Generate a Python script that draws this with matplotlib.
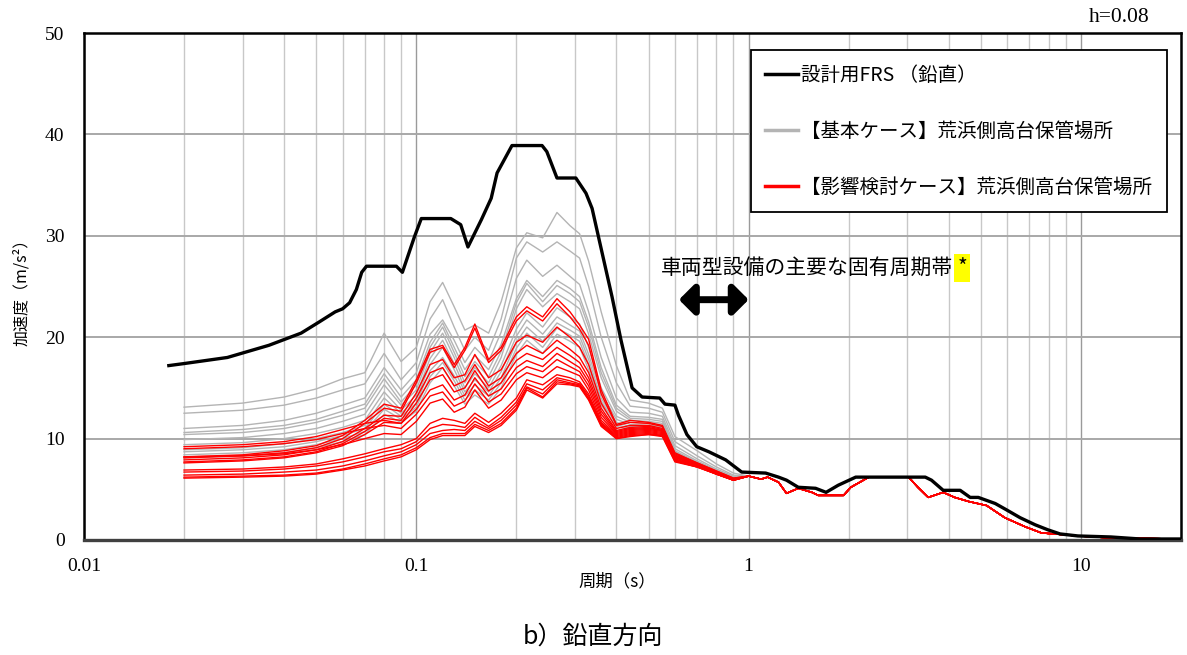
import numpy as np
import matplotlib
matplotlib.use("Agg")
import matplotlib.pyplot as plt
from matplotlib.lines import Line2D
from matplotlib.ticker import LogLocator, NullFormatter, FixedLocator

plt.rcParams['font.family'] = ['Noto Sans CJK JP', 'DejaVu Sans']

# ---------------- data ----------------
# design FRS (black)
FRS_T = [0.018, 0.02, 0.027, 0.036, 0.045, 0.051, 0.057, 0.06, 0.063, 0.066, 0.0685,
         0.0708, 0.0871, 0.0908, 0.0987, 0.1035, 0.127, 0.136, 0.143, 0.157, 0.168,
         0.175, 0.194, 0.239, 0.247, 0.265, 0.302, 0.324, 0.338, 0.355, 0.388, 0.413,
         0.446, 0.478, 0.54, 0.56, 0.6, 0.615, 0.652, 0.698, 0.759, 0.853, 0.953,
         1.125, 1.23, 1.30, 1.41, 1.59, 1.71, 1.86, 2.10, 3.40, 3.55, 3.85, 4.33,
         4.64, 4.91, 5.52, 5.95, 6.56, 7.28, 7.96, 8.65, 9.79, 12.3, 15.1, 20.0]
FRS_V = [17.2, 17.4, 18.0, 19.2, 20.4, 21.5, 22.5, 22.8, 23.4, 24.7, 26.4,
         27.0, 27.0, 26.4, 29.9, 31.7, 31.7, 31.1, 28.9, 31.6, 33.7,
         36.2, 38.9, 38.9, 38.3, 35.7, 35.7, 34.2, 32.7, 29.6, 24.0, 19.7,
         15.0, 14.1, 14.0, 13.4, 13.3, 12.3, 10.4, 9.2, 8.7, 7.9, 6.7,
         6.6, 6.2, 5.9, 5.2, 5.1, 4.7, 5.4, 6.2, 6.2, 5.9, 4.9, 4.9,
         4.2, 4.2, 3.6, 3.0, 2.2, 1.5, 1.0, 0.6, 0.4, 0.3, 0.1, 0.1]

# periods at which the case spectra were read (below 1 s)
CASE_T = [0.02, 0.03, 0.04, 0.05, 0.06, 0.07, 0.08, 0.09, 0.1, 0.11, 0.12, 0.13,
          0.14, 0.15, 0.165, 0.18, 0.2, 0.215, 0.24, 0.265, 0.29, 0.31, 0.33,
          0.36, 0.4, 0.44, 0.5, 0.55, 0.6, 0.7, 0.8, 0.9]

# basic cases (gray): one row per period, one column per case
GRAY_ROWS = [
    [13.1, 12.5, 11.0, 10.6, 10.4, 9.9, 9.4, 8.9, 8.7, 8.4, 8.1],
    [13.5, 12.8, 11.3, 10.9, 10.6, 10.1, 9.6, 9.1, 8.9, 8.6, 8.3],
    [14.1, 13.3, 11.8, 11.3, 11.0, 10.5, 10.0, 9.5, 9.2, 8.9, 8.6],
    [14.9, 14.0, 12.5, 11.9, 11.6, 11.0, 10.5, 10.0, 9.7, 9.4, 9.1],
    [15.9, 14.8, 13.3, 12.7, 12.3, 11.7, 11.1, 10.6, 10.3, 10.0, 9.7],
    [16.5, 15.4, 14.0, 13.4, 13.0, 12.4, 11.8, 11.3, 11.0, 10.7, 10.4],
    [20.4, 18.4, 17.0, 16.4, 15.9, 15.3, 14.6, 14.0, 13.4, 12.9, 12.4],
    [17.6, 15.8, 14.8, 14.1, 13.6, 13.3, 12.8, 12.5, 12.2, 11.9, 11.6],
    [19.0, 17.5, 16.5, 15.8, 15.3, 14.8, 14.3, 13.9, 13.5, 13.1, 12.7],
    [23.5, 21.8, 20.3, 19.5, 19.0, 18.5, 17.9, 17.3, 16.7, 16.1, 15.5],
    [25.4, 23.7, 21.7, 21.4, 21.0, 20.4, 19.7, 19.0, 18.0, 17.5, 17.0],
    [23.0, 21.0, 19.7, 19.0, 18.5, 18.0, 17.4, 16.8, 16.2, 15.7, 15.2],
    [20.7, 18.7, 17.5, 16.8, 16.1, 15.5, 15.0, 14.6, 14.2, 13.8, 13.4],
    [21.2, 20.0, 19.0, 18.2, 17.6, 17.0, 16.4, 15.8, 15.3, 14.8, 14.3],
    [20.4, 18.7, 17.6, 16.8, 16.1, 15.5, 15.0, 14.6, 14.2, 13.8, 13.4],
    [23.5, 21.8, 20.5, 19.3, 18.6, 18.0, 17.2, 16.6, 16.0, 15.5, 15.0],
    [28.8, 27.8, 25.8, 23.8, 23.4, 22.8, 20.8, 20.1, 19.5, 18.9, 18.3],
    [30.3, 29.4, 27.6, 25.6, 25.3, 24.7, 22.4, 21.7, 21.0, 20.4, 19.7],
    [29.8, 28.4, 26.0, 24.0, 23.5, 23.0, 21.0, 20.3, 19.6, 19.0, 18.4],
    [32.3, 29.4, 27.1, 25.6, 25.1, 24.3, 22.9, 22.0, 21.4, 20.9, 20.3],
    [31.0, 28.5, 26.0, 24.8, 24.3, 23.5, 22.0, 21.2, 20.7, 20.2, 19.6],
    [30.2, 27.8, 25.2, 24.0, 23.5, 22.8, 21.3, 20.6, 20.1, 19.6, 19.0],
    [27.5, 25.0, 22.5, 21.5, 21.0, 20.3, 19.0, 18.3, 17.8, 17.3, 16.8],
    [22.5, 20.0, 18.0, 17.0, 16.5, 16.0, 15.0, 14.5, 14.0, 13.7, 13.3],
    [17.2, 15.5, 14.0, 13.3, 13.0, 12.7, 12.2, 11.9, 11.6, 11.4, 11.2],
    [13.8, 13.2, 12.6, 12.2, 12.0, 11.8, 11.6, 11.4, 11.2, 11.0, 10.9],
    [13.5, 13.0, 12.5, 12.1, 11.9, 11.7, 11.5, 11.3, 11.2, 11.0, 10.9],
    [13.0, 12.6, 12.2, 11.9, 11.7, 11.5, 11.3, 11.2, 11.1, 10.9, 10.8],
    [10.2, 9.7, 9.3, 9.0, 8.8, 8.7, 8.6, 8.5, 8.4, 8.3, 8.3],
    [8.8, 8.3, 8.0, 7.8, 7.7, 7.6, 7.6, 7.5, 7.5, 7.4, 7.4],
    [7.5, 7.2, 7.0, 6.9, 6.8, 6.8, 6.7, 6.7, 6.7, 6.6, 6.6],
    [6.6, 6.4, 6.3, 6.2, 6.2, 6.1, 6.1, 6.1, 6.0, 6.0, 6.0],
]

# influence-study cases (red): one row per period, one column per case
RED_ROWS = [
    [8.2, 8.1, 7.9, 7.7, 7.6, 9.2, 9.0, 8.2, 6.9, 6.7, 6.4, 6.2, 6.1],
    [8.4, 8.3, 8.1, 7.9, 7.8, 9.4, 9.2, 8.3, 7.0, 6.8, 6.5, 6.3, 6.2],
    [8.8, 8.6, 8.4, 8.2, 8.1, 9.7, 9.5, 8.5, 7.2, 7.0, 6.7, 6.4, 6.3],
    [9.3, 9.1, 8.9, 8.7, 8.6, 10.2, 9.9, 8.9, 7.5, 7.3, 6.9, 6.6, 6.5],
    [10.3, 10.0, 9.7, 9.5, 9.3, 10.9, 10.5, 9.4, 8.0, 7.7, 7.3, 7.0, 6.9],
    [11.8, 11.5, 11.0, 10.7, 10.4, 11.5, 11.0, 10.0, 8.5, 8.2, 7.8, 7.5, 7.3],
    [13.4, 13.0, 12.3, 12.0, 11.6, 11.8, 11.3, 10.5, 9.0, 8.7, 8.3, 8.0, 7.8],
    [13.0, 12.7, 12.2, 11.8, 11.5, 11.5, 11.0, 10.4, 9.4, 9.0, 8.7, 8.4, 8.2],
    [15.8, 15.5, 14.5, 14.0, 13.5, 12.9, 12.4, 11.7, 10.0, 9.7, 9.4, 9.1, 8.9],
    [18.8, 18.5, 17.3, 16.5, 15.8, 14.8, 14.2, 13.5, 11.5, 11.0, 10.5, 10.1, 9.9],
    [19.2, 19.0, 17.8, 17.0, 16.3, 15.3, 14.6, 13.9, 12.0, 11.4, 10.8, 10.5, 10.3],
    [17.3, 17.0, 16.0, 15.2, 14.6, 13.8, 13.2, 12.6, 11.8, 11.3, 10.9, 10.5, 10.3],
    [19.0, 18.7, 16.3, 15.7, 15.0, 14.3, 13.7, 13.1, 11.5, 11.1, 10.8, 10.5, 10.3],
    [21.3, 20.9, 18.3, 17.3, 16.7, 16.0, 15.4, 14.8, 12.5, 12.1, 11.7, 11.4, 11.2],
    [17.8, 17.5, 16.0, 15.2, 14.7, 14.2, 13.6, 13.0, 11.6, 11.2, 11.0, 10.8, 10.6],
    [19.0, 18.7, 16.8, 16.0, 15.5, 14.9, 14.4, 13.8, 12.5, 12.1, 11.8, 11.5, 11.3],
    [22.0, 21.6, 19.5, 18.4, 17.7, 17.0, 16.4, 15.8, 14.0, 13.6, 13.3, 13.0, 12.8],
    [23.0, 22.6, 20.2, 19.2, 18.4, 17.7, 17.1, 16.5, 15.8, 15.4, 15.1, 15.0, 14.8],
    [22.0, 21.6, 19.5, 18.4, 17.8, 17.1, 16.6, 16.0, 15.3, 14.8, 14.4, 14.1, 14.0],
    [23.8, 23.3, 21.0, 19.7, 19.0, 18.4, 17.8, 17.1, 16.3, 16.0, 15.8, 15.6, 15.4],
    [22.5, 22.0, 20.0, 18.8, 18.2, 17.6, 17.1, 16.6, 16.0, 15.7, 15.5, 15.4, 15.3],
    [21.2, 20.8, 19.0, 18.0, 17.5, 17.0, 16.6, 16.2, 15.6, 15.4, 15.3, 15.2, 15.1],
    [19.8, 19.2, 17.3, 16.5, 16.0, 15.6, 15.2, 14.8, 14.4, 14.2, 14.0, 13.9, 13.8],
    [14.8, 14.4, 13.5, 13.0, 12.7, 12.4, 12.1, 11.8, 11.6, 11.5, 11.4, 11.3, 11.2],
    [11.4, 11.3, 11.0, 10.8, 10.7, 10.6, 10.5, 10.4, 10.3, 10.2, 10.1, 10.0, 10.0],
    [11.8, 11.6, 11.3, 11.1, 11.0, 10.9, 10.8, 10.7, 10.6, 10.5, 10.4, 10.3, 10.2],
    [11.6, 11.5, 11.3, 11.2, 11.1, 11.0, 10.9, 10.8, 10.7, 10.6, 10.5, 10.4, 10.4],
    [11.3, 11.2, 11.0, 10.9, 10.8, 10.8, 10.7, 10.6, 10.5, 10.4, 10.3, 10.3, 10.2],
    [8.6, 8.5, 8.4, 8.3, 8.2, 8.2, 8.1, 8.0, 8.0, 7.9, 7.8, 7.8, 7.7],
    [7.6, 7.6, 7.5, 7.5, 7.4, 7.4, 7.4, 7.3, 7.3, 7.3, 7.2, 7.2, 7.2],
    [6.8, 6.8, 6.7, 6.7, 6.6, 6.6, 6.6, 6.6, 6.5, 6.5, 6.5, 6.5, 6.5],
    [6.1, 6.1, 6.0, 6.0, 6.0, 5.9, 5.9, 5.9, 5.9, 5.9, 5.9, 5.9, 5.9],
]

# long-period part shared by all cases (curves coincide there)
TAIL_T = [1.0, 1.09, 1.14, 1.23, 1.30, 1.41, 1.55, 1.62, 1.93, 2.03, 2.30, 3.03,
          3.23, 3.47, 3.85, 4.17, 4.59, 5.2, 5.9, 6.8, 7.6, 8.3, 9.8, 12.3, 20.0]
TAIL_V = [6.3, 6.0, 6.2, 5.7, 4.6, 5.1, 4.7, 4.4, 4.4, 5.2, 6.2, 6.2,
          5.2, 4.2, 4.7, 4.2, 3.8, 3.4, 2.2, 1.3, 0.7, 0.6, 0.4, 0.2, 0.1]

X_TICKS = [0.01, 0.1, 1, 10]
X_TICKLABELS = ['0.01', '0.1', '1', '10']
Y_TICKS = [0, 10, 20, 30, 40, 50]

LABEL_FRS = '設計用FRS （鉛直）'
LABEL_GRAY = '【基本ケース】荒浜側高台保管場所'
LABEL_RED = '【影響検討ケース】荒浜側高台保管場所'
BAND_TEXT = '車両型設備の主要な固有周期帯'
BAND_T = [0.617, 1.0]

# ---------------- figure ----------------
W, H = 1187, 655
fig = plt.figure(figsize=(W / 100, H / 100), dpi=100)
ax = fig.add_axes([84 / W, 1 - 540 / H, (1181 - 84) / W, (540 - 33) / H])
ax.set_xscale('log')

serif = ['Liberation Serif', 'DejaVu Serif']
gray_c = '#b4b4b4'
red_c = '#ff0000'

gray_arr = np.array(GRAY_ROWS).T
red_arr = np.array(RED_ROWS).T
full_T = list(CASE_T) + list(TAIL_T)
for row in gray_arr:
    ax.plot(full_T, list(row) + list(TAIL_V), color=gray_c, lw=1.0, zorder=3)
for row in red_arr:
    ax.plot(full_T, list(row) + list(TAIL_V), color=red_c, lw=1.0, zorder=4)
ax.plot(FRS_T, FRS_V, color='black', lw=2.4, zorder=5, solid_joinstyle='round')

ax.set_xlim(0.01, 20)
ax.set_ylim(0, 50)
ax.xaxis.set_major_locator(FixedLocator(X_TICKS))
ax.set_xticklabels(X_TICKLABELS)
ax.xaxis.set_minor_locator(LogLocator(base=10, subs=np.arange(2, 10), numticks=20))
ax.xaxis.set_minor_formatter(NullFormatter())
ax.set_yticks(Y_TICKS)
ax.tick_params(which='both', length=0)
ax.tick_params(axis='x', pad=13, labelsize=14)
ax.tick_params(axis='y', pad=14, labelsize=14)
for lab in ax.get_xticklabels() + ax.get_yticklabels():
    lab.set_fontfamily(serif)

ax.grid(which='major', axis='x', color='#9a9a9a', lw=1.0, zorder=0)
ax.grid(which='minor', axis='x', color='#c8c8c8', lw=1.0, zorder=0)
ax.grid(which='major', axis='y', color='#a8a8a8', lw=1.4, zorder=0)
ax.set_axisbelow(True)

for s in ['left', 'top', 'right']:
    ax.spines[s].set_linewidth(1.8)
    ax.spines[s].set_color('black')
ax.spines['bottom'].set_linewidth(2.4)
ax.spines['bottom'].set_color('#404040')

ax.set_xlabel('周期（s）', fontsize=12.5)
ax.xaxis.set_label_coords((617 - 84) / 1097, (540 - 572) / 507)
ax.set_ylabel('加速度（m/s²）', fontsize=11.5)
ax.yaxis.set_label_coords((30 - 84) / 1097, (540 - 288) / 507)

handles = [Line2D([], [], color='black', lw=2.5),
           Line2D([], [], color=gray_c, lw=2.5),
           Line2D([], [], color=red_c, lw=2.5)]
leg = ax.legend(handles, [LABEL_FRS, LABEL_GRAY, LABEL_RED],
                loc='upper right', bbox_to_anchor=(0.987, 0.966),
                prop={'family': ['Noto Sans CJK JP', 'DejaVu Sans'], 'size': 14},
                fancybox=False, framealpha=1, edgecolor='black',
                labelspacing=1.8, handlelength=1.7, handletextpad=0.15,
                borderpad=0.75, borderaxespad=0)
leg.get_frame().set_linewidth(1.3)
leg.set_zorder(10)

# annotation: main natural-period band
txt = ax.text(0.545, 26.8, BAND_TEXT, fontsize=15, ha='left', va='center', zorder=6)
ax.annotate('*', xy=(1, 0.5), xycoords=txt, xytext=(3, 0), textcoords='offset points',
            ha='left', va='center', fontsize=15, zorder=6,
            bbox=dict(boxstyle='square,pad=0.15', facecolor='#ffff00', edgecolor='none'))
ax.annotate('', xy=(BAND_T[1], 23.7), xytext=(BAND_T[0], 23.7),
            arrowprops=dict(arrowstyle='<|-|>,head_length=0.45,head_width=0.45',
                            lw=5, color='black', mutation_scale=20,
                            shrinkA=0, shrinkB=0), zorder=6)

fig.text(1150 / W, 1 - 18 / H, 'h=0.08', ha='right', va='center', fontsize=15.5,
         family=serif)
fig.text(593 / W, 1 - 637 / H, 'b）鉛直方向', ha='center', va='center', fontsize=18)

fig.savefig('out.png', dpi=100)
